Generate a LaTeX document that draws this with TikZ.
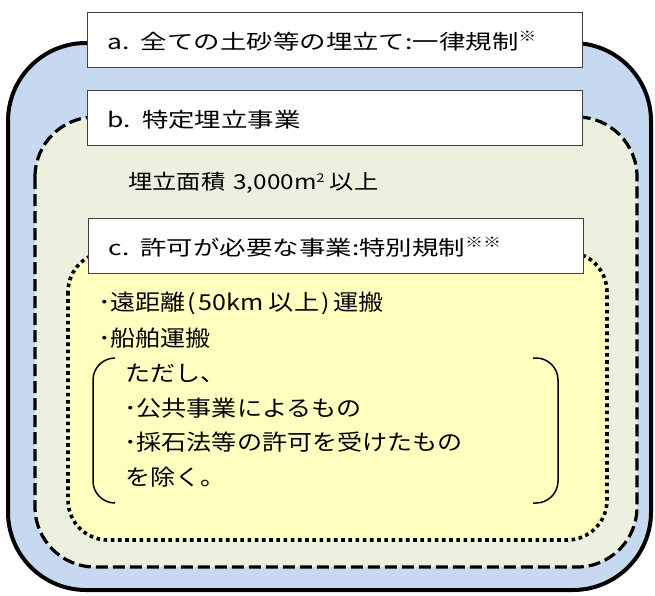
\documentclass[tikz,border=0pt]{standalone}
\usepackage{fontspec}
\setmainfont[FakeStretch=1.2]{Noto Sans CJK JP}
\newfontfamily\hdfont[FakeStretch=1.29]{Noto Sans CJK JP}
\newfontfamily\bdfont[FakeStretch=1.14]{Noto Sans CJK JP}
\newfontfamily\arfont[FakeStretch=1.18]{Noto Sans CJK JP}
\definecolor{outerblue}{HTML}{C6D9F1}
\definecolor{midgreen}{HTML}{EBF1DE}
\definecolor{inneryellow}{HTML}{FFFFC0}
\definecolor{boxgray}{HTML}{404040}
\newcommand{\kome}{\raisebox{8pt}{\fontsize{14pt}{14pt}\selectfont ※}}
\begin{document}
\begin{tikzpicture}[x=1pt,y=-1pt,
  lbl/.style={draw=boxgray,line width=1.3pt,fill=white,minimum width=495pt,minimum height=55pt,
    anchor=north west,inner xsep=20pt,inner ysep=0pt,text width=455pt,align=left,
    text height=20pt,text depth=2pt,
    font=\hdfont\fontsize{20.5pt}{25pt}\selectfont},
  txt/.style={anchor=west,inner sep=0pt,font=\bdfont\fontsize{22pt}{25pt}\selectfont},
  areatxt/.style={anchor=west,inner sep=0pt,font=\arfont\fontsize{20.6pt}{25pt}\selectfont},
  brk/.style={line width=1.5pt,rounded corners=22pt},
  outerframe/.style={line width=4pt,fill=outerblue,rounded corners=78pt},
  midframe/.style={line width=3.2pt,fill=midgreen,dash pattern=on 12pt off 5pt,rounded corners=60pt},
  innerframe/.style={line width=3.6pt,fill=inneryellow,dash pattern=on 3.6pt off 3.6pt,rounded corners=40pt}]
\useasboundingbox (0,0) rectangle (655,595);
% outer region a
\draw[outerframe] (8,43) rectangle (651,590);
\node[lbl] (boxa) at (87,12) {a.\kern11pt 全ての土砂等の埋立て:一律規制\kome};
% region b
\draw[midframe] (35,117) rectangle (637,567);
\node[lbl] (boxb) at (87,90) {b.\kern11pt 特定埋立事業};
\node[areatxt] (area) at (128,183) {埋立面積\kern8pt 3,000m\raisebox{7pt}{\fontsize{12pt}{12pt}\selectfont 2} 以上};
% region c
\draw[innerframe] (68,252) rectangle (607,540);
\node[lbl] (boxc) at (88,218) {c.\kern11pt 許可が必要な事業:特別規制\kome\kome};
% texts in c
\node[txt] (t1) at (98,303) {･遠距離\kern2pt(\kern2pt 50km 以上\kern2pt)\kern4pt 運搬};
\node[txt] (t2) at (98,338) {･船舶運搬};
\node[txt] (t3) at (125,373) {ただし、};
\node[txt] (t4) at (124,408) {･公共事業によるもの};
\node[txt] (t5) at (124,442) {･採石法等の許可を受けたもの};
\node[txt] (t6) at (125,477) {を除く。};
% brackets
\draw[brk] (115,358) -- (93,358) -- (93,503) -- (115,503);
\draw[brk] (533,358) -- (558,358) -- (558,503) -- (533,503);
\end{tikzpicture}
\end{document}
